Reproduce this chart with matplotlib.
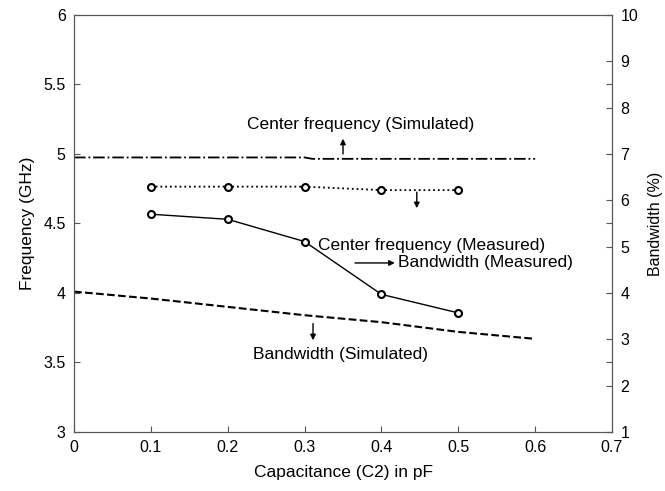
import matplotlib
matplotlib.use("Agg")
import matplotlib.pyplot as plt

plt.rcParams["font.family"] = ["Liberation Sans", "DejaVu Sans"]

# capacitance (pF)
c_meas = [0.1, 0.2, 0.3, 0.4, 0.5]
c_sim = [0.0, 0.1, 0.2, 0.3, 0.31, 0.4, 0.5, 0.6]

# frequency (GHz)
fc_sim = [4.975, 4.975, 4.975, 4.975, 4.965, 4.965, 4.965, 4.965]
fc_meas = [4.765, 4.765, 4.765, 4.74, 4.74]

# bandwidth (%)
bw_sim_c = [0.0, 0.1, 0.2, 0.3, 0.4, 0.5, 0.6]
bw_sim = [4.03, 3.88, 3.70, 3.52, 3.37, 3.16, 3.01]
bw_meas = [5.70, 5.59, 5.11, 3.97, 3.57]

fig = plt.figure(figsize=(6.65, 4.91), dpi=100)
ax = fig.add_axes([0.1113, 0.1202, 0.809, 0.8493])
ax2 = ax.twinx()

ax.plot(c_sim, fc_sim, color="black", linestyle="-.", linewidth=1.3)
ax.plot(c_meas, fc_meas, color="black", linestyle=":", linewidth=1.3,
        marker="o", markersize=5, markerfacecolor="white", markeredgewidth=1.5)

ax2.plot(bw_sim_c, bw_sim, color="black", linestyle="--", linewidth=1.5)
ax2.plot(c_meas, bw_meas, color="black", linestyle="-", linewidth=1.0,
         marker="o", markersize=5, markerfacecolor="white", markeredgewidth=1.5)

ax.set_xlim(0, 0.7)
ax.set_ylim(3, 6)
ax2.set_ylim(1, 10)
ax.set_xticks([0, 0.1, 0.2, 0.3, 0.4, 0.5, 0.6, 0.7])
ax.set_xticklabels(["0", "0.1", "0.2", "0.3", "0.4", "0.5", "0.6", "0.7"])
ax.set_yticks([3, 3.5, 4, 4.5, 5, 5.5, 6])
ax.set_yticklabels(["3", "3.5", "4", "4.5", "5", "5.5", "6"])
ax2.set_yticks(range(1, 11))

ax.set_xlabel("Capacitance (C2) in pF", fontsize=12.5, labelpad=7)
ax.set_ylabel("Frequency (GHz)", fontsize=12.5, labelpad=6)
ax2.set_ylabel("Bandwidth (%)", fontsize=11.5, labelpad=7)

for a in (ax, ax2):
    for s in a.spines.values():
        s.set_color("#555555")
ax.tick_params(direction="in", labelsize=11.5, length=4, color="#555555", pad=6, right=True)
ax2.tick_params(direction="in", labelsize=11.5, length=4, color="#555555", pad=6)

fs = 12.5
arrow = dict(arrowstyle="-|>", color="black", lw=1.0, mutation_scale=8)
ax.annotate("", xy=(0.35, 5.13), xytext=(0.35, 4.98), arrowprops=arrow)
ax.text(0.225, 5.21, "Center frequency (Simulated)", fontsize=fs, ha="left", va="center")

ax.annotate("", xy=(0.446, 4.59), xytext=(0.446, 4.745), arrowprops=arrow)
ax.text(0.613, 4.345, "Center frequency (Measured)", fontsize=fs, ha="right", va="center")

ax.annotate("", xy=(0.421, 4.216), xytext=(0.362, 4.216), arrowprops=arrow)
ax.text(0.4215, 4.216, "Bandwidth (Measured)", fontsize=fs, ha="left", va="center")

ax.annotate("", xy=(0.311, 3.64), xytext=(0.311, 3.80), arrowprops=arrow)
ax.text(0.233, 3.555, "Bandwidth (Simulated)", fontsize=fs, ha="left", va="center")

fig.savefig("out.png", dpi=100)
